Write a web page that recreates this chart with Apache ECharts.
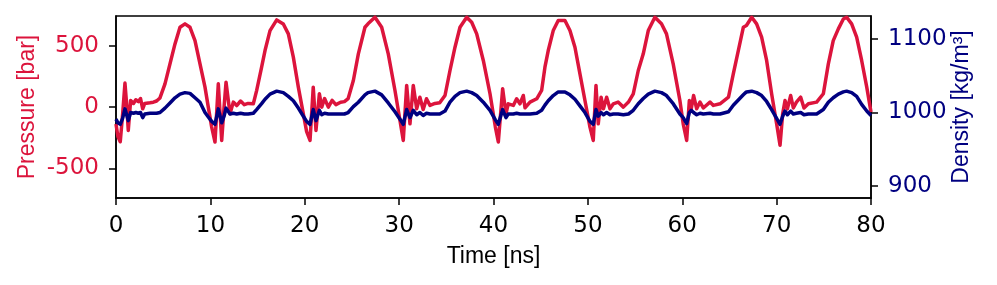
<!DOCTYPE html>
<html>
<head>
<meta charset="utf-8">
<script src="https://cdn.jsdelivr.net/npm/echarts@6/dist/echarts.min.js"></script>
<style>
  html, body { margin: 0; padding: 0; background: #fff; }
  #chart { width: 997px; height: 285px; }
</style>
</head>
<body>
<div id="chart"></div>
<script>
// Time in ns (shared by both series)
var timeNs = [
  0, 0.2, 0.45, 0.7, 0.95, 1.15, 1.3, 1.55, 1.85, 2.1, 2.37, 2.6, 2.83, 3.05, 3.25, 3.6, 3.96, 4.3, 4.66, 5.19, 5.72, 6.25, 6.78, 7.31, 7.84, 8.37, 8.9, 9.43, 9.78, 10.14,
  10.49, 10.84, 11.2, 11.45, 11.66, 12.08, 12.43, 12.79, 13.2, 13.6, 14.0, 14.55, 14.9, 15.43, 15.79, 16.32, 17.03, 17.73, 18.26, 18.79, 19.32, 19.85,
  20.2, 20.56, 20.9, 21.19, 21.55, 21.8, 22.1, 22.5, 22.9, 23.3, 23.8, 24.2, 24.6, 25.15, 25.68, 26.38, 26.7, 27.44, 28.15, 28.85, 29.56, 30.09,
  30.44, 30.8, 31.15, 31.5, 31.86, 32.2, 32.55, 32.9, 33.27, 33.8, 34.3, 34.86, 35.39, 35.92, 36.45, 37.16, 37.69, 38.22, 38.92, 39.63, 40.2,
  40.51, 40.97, 41.32, 41.56, 42.1, 42.45, 42.8, 43.16, 43.34, 43.87, 44.58, 45.1, 45.45, 45.8, 46.33, 46.86, 47.57, 48.1, 48.63, 49.16, 49.69, 50.22,
  50.57, 50.86, 51.1, 51.4, 51.65, 51.99, 52.34, 52.7, 53.2, 53.76, 54.3, 54.81, 55.34, 55.87, 56.4, 57.1, 57.8, 58.33, 59.04, 59.75,
  60.1, 60.47, 60.75, 60.95, 61.2, 61.53, 61.88, 62.23, 62.94, 63.3, 64.0, 64.9, 65.41, 65.94, 66.47, 66.8, 67.36, 67.88, 68.41, 68.94, 69.47, 70.0,
  70.36, 70.64, 70.89, 71.14, 71.49, 71.77, 72.1, 72.55, 72.9, 73.36, 74.24, 74.95, 75.48, 76.0, 76.54, 77.07, 77.42, 77.95, 78.48, 79.01, 79.55, 80
];
// Pressure in bar
var pressureBar = [
  -137, -240, -283, -60, 196, 0, -190, 54, 30, 60, 45, 70, -14, 30, 27, 35, 40, 50, 75, 190, 353, 516, 652, 680, 652, 543, 353, 163, 0, -163,
  -285, 190, -272, 0, 204, -55, 41, 13, 50, 20, 30, 27, 135, 326, 462, 625, 712, 679, 598, 408, 163, -55,
  -200, -272, 163, -190, 109, 0, 70, 0, 55, 20, 40, 45, 70, 217, 435, 652, 680, 734, 652, 435, 136, -109,
  -272, 177, -136, 177, -14, 81, -20, 68, 14, 30, 35, 95, 299, 489, 652, 734, 693, 598, 381, 109, -163,
  -285, 150, -55, 27, 14, 68, 27, 95, -5, 41, 68, 136, 326, 462, 625, 707, 707, 625, 489, 272, 54, -163,
  -272, 177, -136, 81, -14, 81, -14, 27, 41, 0, 41, 109, 299, 435, 625, 734, 680, 598, 353, 54,
  -136, -272, 54, -14, 95, -14, 41, -7, 41, 14, 27, 81, 272, 462, 652, 666, 734, 680, 571, 381, 109, -136,
  -312, -55, 54, -14, 95, -7, 41, 81, -7, 27, 41, 109, 353, 543, 639, 720, 734, 680, 571, 381, 163, -41
];
// Density in kg/m3
var densityKgm3 = [
  991, 986, 984, 992, 1005, 996, 989, 1000, 999, 1000, 999, 1000, 993, 998, 998, 999, 999, 999, 1000, 1006, 1013, 1020, 1025, 1027, 1026, 1020, 1014, 1000, 994, 988,
  984, 1005, 986, 995, 1006, 998, 999, 998, 999, 998, 998, 999, 1004, 1012, 1018, 1025, 1029, 1027, 1022, 1016, 1006, 995,
  988, 984, 1004, 989, 1003, 997, 999, 998, 998, 998, 998, 998, 1000, 1008, 1014, 1024, 1027, 1029, 1024, 1013, 1001, 991,
  984, 1004, 993, 1003, 997, 1000, 996, 999, 998, 998, 998, 1002, 1014, 1022, 1027, 1029, 1027, 1023, 1014, 1003, 990,
  984, 1004, 993, 998, 998, 999, 998, 998, 996, 998, 999, 1003, 1010, 1016, 1023, 1028, 1028, 1024, 1018, 1009, 1000, 988,
  984, 1004, 995, 1000, 997, 1000, 997, 998, 998, 997, 998, 1003, 1012, 1019, 1025, 1029, 1027, 1023, 1012, 998,
  993, 985, 1000, 1003, 1000, 997, 999, 998, 999, 998, 998, 1001, 1010, 1017, 1024, 1028, 1029, 1027, 1023, 1015, 1004, 992,
  984, 995, 1002, 997, 1002, 998, 999, 1000, 997, 998, 998, 1004, 1014, 1020, 1025, 1028, 1029, 1027, 1022, 1011, 1002, 996
];
var xTicks = [0, 10, 20, 30, 40, 50, 60, 70, 80];
var pressureTicks = [-500, 0, 500];
var densityTicks = [900, 1000, 1100];

var RED = '#DC143C';
var NAVY = '#000080';
var tickFont = 'DejaVu Sans';
var nameFont = 'Liberation Sans';
var plain = function (v) { return String(v); };

var pData = timeNs.map(function (t, i) { return [t, pressureBar[i]]; });
var dData = timeNs.map(function (t, i) { return [t, densityKgm3[i]]; });

var chart = echarts.init(document.getElementById('chart'), null, { renderer: 'canvas' });
chart.setOption({
  animation: false,
  backgroundColor: '#fff',
  grid: {
    left: 116, right: 126, top: 16, bottom: 87,
    show: true, borderColor: '#000', borderWidth: 1.5, backgroundColor: 'transparent'
  },
  xAxis: {
    type: 'value', min: 0, max: 80, interval: 10,
    name: 'Time [ns]', nameLocation: 'middle', nameGap: 47, nameMoveOverlap: false,
    nameTextStyle: { fontFamily: nameFont, fontSize: 23, color: '#000' },
    axisLine: { show: true, onZero: false, lineStyle: { color: '#000', width: 1.5 } },
    axisTick: { show: true, inside: false, length: 7, lineStyle: { color: '#000', width: 1.5 } },
    axisLabel: { fontFamily: tickFont, fontSize: 23, color: '#000', margin: 17,
      customValues: xTicks, formatter: plain },
    splitLine: { show: false }
  },
  yAxis: [
    {
      type: 'value', min: -742, max: 744, position: 'left',
      name: 'Pressure [bar]', nameLocation: 'middle', nameGap: 77, nameRotate: 90,
      nameMoveOverlap: false,
      nameTextStyle: { fontFamily: nameFont, fontSize: 23, color: RED },
      axisLine: { show: true, onZero: false, lineStyle: { color: '#000', width: 1.5 } },
      axisTick: { show: true, inside: false, length: 7, customValues: pressureTicks,
        lineStyle: { color: '#000', width: 1.5 } },
      axisLabel: { fontFamily: tickFont, fontSize: 23, color: RED, margin: 17,
        customValues: pressureTicks, formatter: plain },
      splitLine: { show: false }
    },
    {
      type: 'value', min: 884, max: 1131, position: 'right',
      name: 'Density [kg/m³]', nameLocation: 'middle', nameGap: 79, nameRotate: 90,
      nameMoveOverlap: false,
      nameTextStyle: { fontFamily: nameFont, fontSize: 23, color: NAVY },
      axisLine: { show: true, onZero: false, lineStyle: { color: '#000', width: 1.5 } },
      axisTick: { show: true, inside: false, length: 7, customValues: densityTicks,
        lineStyle: { color: '#000', width: 1.5 } },
      axisLabel: { fontFamily: tickFont, fontSize: 23, color: NAVY, margin: 17,
        customValues: densityTicks, formatter: plain },
      splitLine: { show: false }
    }
  ],
  series: [
    {
      name: 'Pressure', type: 'line', yAxisIndex: 0, data: pData,
      showSymbol: false, symbol: 'none', smooth: false,
      lineStyle: { color: RED, width: 3.5, join: 'round' }, z: 2
    },
    {
      name: 'Density', type: 'line', yAxisIndex: 1, data: dData,
      showSymbol: false, symbol: 'none', smooth: false,
      lineStyle: { color: NAVY, width: 3.5, join: 'round' }, z: 3
    }
  ]
});
</script>
</body>
</html>
